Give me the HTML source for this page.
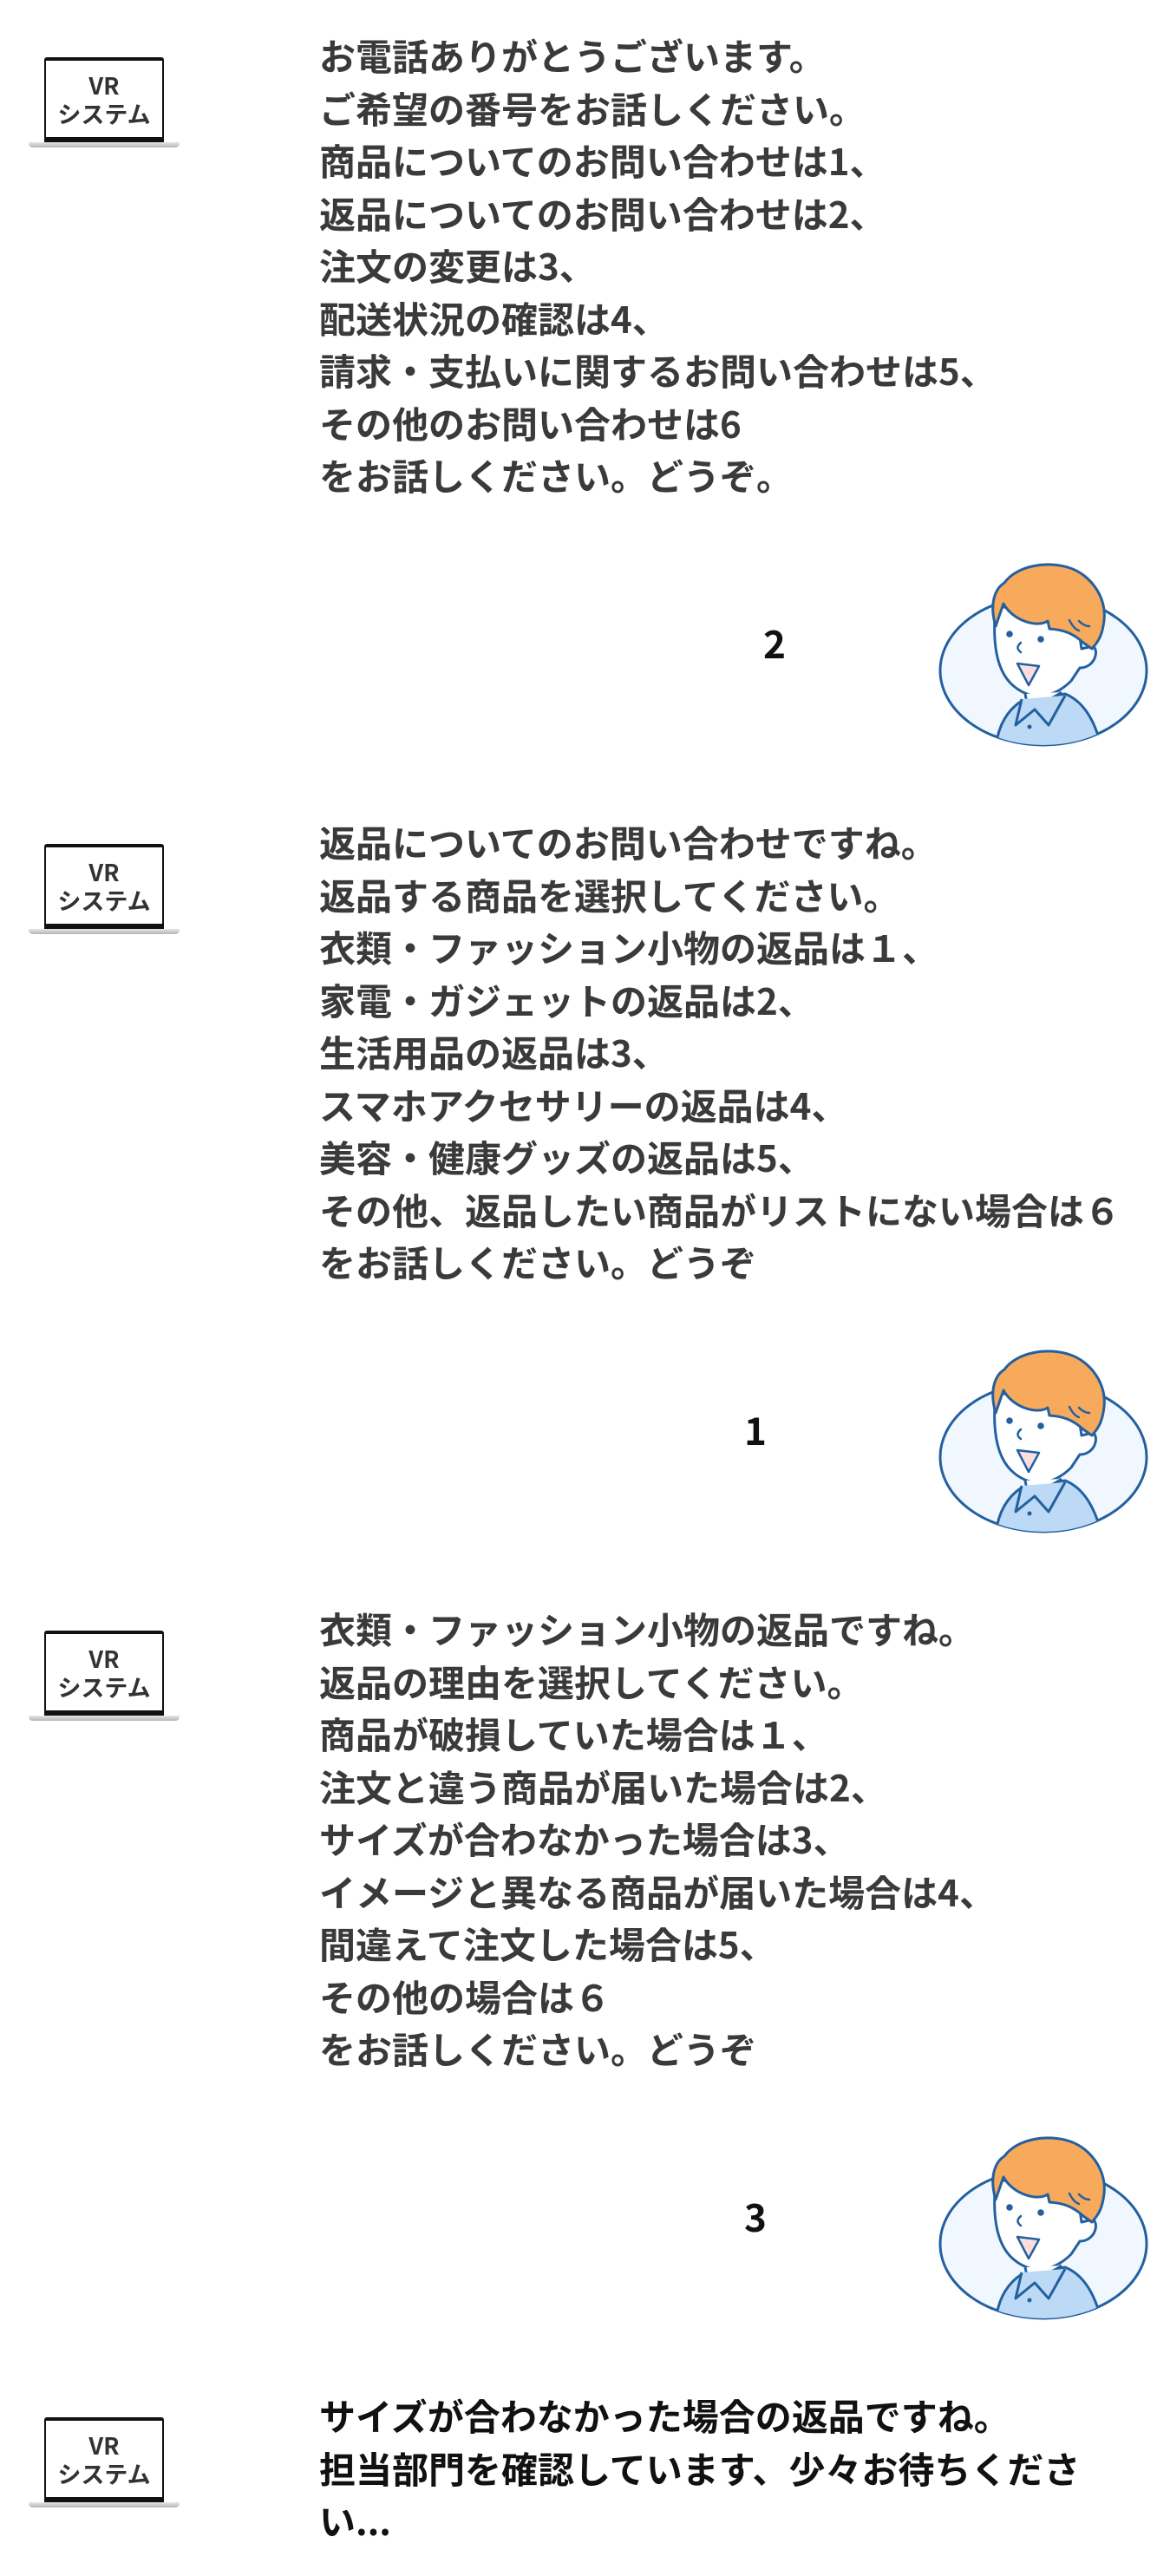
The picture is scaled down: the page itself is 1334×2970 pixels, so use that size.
<!DOCTYPE html>
<html><head><meta charset="utf-8"><style>
html,body{margin:0;padding:0;background:#fff;}
body{width:1334px;height:2970px;position:relative;overflow:hidden;font-family:"Liberation Sans","Noto Sans CJK JP",sans-serif;}
.t{position:absolute;left:368px;font-family:"Noto Sans CJK JP","Liberation Sans",sans-serif;font-weight:700;font-size:42px;line-height:60.5px;color:#3a3a3a;white-space:nowrap;}
.t.b{color:#111;}
.n{position:absolute;font-family:"Noto Sans CJK JP","Liberation Sans",sans-serif;font-weight:700;font-size:44px;line-height:60px;color:#111;transform:translate(-50%,-50%);}
.lap{position:absolute;left:33px;width:174px;height:110px;}
.lap .scr{position:absolute;left:18px;top:0;width:134px;border:2px solid #111;border-top-width:4px;border-bottom-width:6px;background:#fff;border-radius:3px 3px 0 0;text-align:center;font-family:"Noto Sans CJK JP","Liberation Sans",sans-serif;font-weight:700;color:#333;font-size:27px;line-height:33px;padding-top:11px;box-sizing:content-box;height:77px;}
.lap .base{position:absolute;left:0;top:98px;width:174px;height:6px;background:linear-gradient(#e6e6e6,#b5b5b5);border-radius:2px 2px 6px 6px;}
.av{position:absolute;left:1040px;width:294px;height:300px;}
</style></head><body>

<div class="lap" style="top:66px"><div class="scr">VR<br>システム</div><div class="base"></div></div>
<div class="lap" style="top:973px"><div class="scr">VR<br>システム</div><div class="base"></div></div>
<div class="lap" style="top:1880px"><div class="scr">VR<br>システム</div><div class="base"></div></div>
<div class="lap" style="top:2787px"><div class="scr">VR<br>システム</div><div class="base"></div></div>

<div class="t" style="top:34px">お電話ありがとうございます。<br>ご希望の番号をお話しください。<br>商品についてのお問い合わせは1、<br>返品についてのお問い合わせは2、<br>注文の変更は3、<br>配送状況の確認は4、<br>請求・支払いに関するお問い合わせは5、<br>その他のお問い合わせは6<br>をお話しください。どうぞ。</div>

<div class="t" style="top:941px">返品についてのお問い合わせですね。<br>返品する商品を選択してください。<br>衣類・ファッション小物の返品は１、<br>家電・ガジェットの返品は2、<br>生活用品の返品は3、<br>スマホアクセサリーの返品は4、<br>美容・健康グッズの返品は5、<br>その他、返品したい商品がリストにない場合は６<br>をお話しください。どうぞ</div>

<div class="t" style="top:1848px">衣類・ファッション小物の返品ですね。<br>返品の理由を選択してください。<br>商品が破損していた場合は１、<br>注文と違う商品が届いた場合は2、<br>サイズが合わなかった場合は3、<br>イメージと異なる商品が届いた場合は4、<br>間違えて注文した場合は5、<br>その他の場合は６<br>をお話しください。どうぞ</div>

<div class="t b" style="top:2755px">サイズが合わなかった場合の返品ですね。<br>担当部門を確認しています、少々お待ちくださ<br>い...</div>

<div class="n" style="left:893px;top:740px">2</div>
<div class="n" style="left:871px;top:1647px">1</div>
<div class="n" style="left:871px;top:2554px">3</div>

<svg width="0" height="0" style="position:absolute">
<defs>
<clipPath id="ec"><ellipse cx="163" cy="173" rx="119" ry="86"/></clipPath>
<g id="avatar">
<ellipse cx="163" cy="173" rx="119" ry="86" fill="#f1f7fe" stroke="#23609f" stroke-width="3"/>
<g clip-path="url(#ec)">
<path d="M108,262 Q112,225 138,208 L188,200 Q218,212 230,262 Z" fill="#bcd9f5" stroke="#23609f" stroke-width="3"/>
</g>
<path d="M108,100 C104,140 108,175 130,192 C150,208 175,205 195,185 L205,170 C222,170 228,150 220,145 L207,148 L200,100 Z" fill="#fff" stroke="#23609f" stroke-width="3" stroke-linejoin="round"/>
<path d="M142,200 L144,210 Q165,212 184,198" fill="#fff" stroke="#23609f" stroke-width="3"/>
<path d="M138,206 L131,236 L153,218 L169,236 L188,202" fill="#bcd9f5" stroke="#23609f" stroke-width="3" stroke-linejoin="round"/>
<circle cx="147" cy="238" r="2.5" fill="#23609f"/>
<path d="M108,122 C100,95 108,78 118,72 C132,52 168,46 194,55 C215,62 236,86 233,115 C231,133 226,140 219,148 L209,141 C197,130 186,126 170,125 L168,116 C156,124 128,116 117,96 Z" fill="#f7a95c" stroke="#23609f" stroke-width="3" stroke-linejoin="round"/>
<path d="M193,115 Q198,125 204,127 M204,116 Q210,122 216,122" fill="none" stroke="#23609f" stroke-width="2.5" stroke-linecap="round"/>
<circle cx="124" cy="131" r="3.8" fill="#23609f"/>
<circle cx="160" cy="137" r="3.8" fill="#23609f"/>
<path d="M137,141 Q130,147 137,152" fill="none" stroke="#23609f" stroke-width="2.5" stroke-linecap="round"/>
<path d="M133,165 L158,168 L146,190 Z" fill="#fddede" stroke="#23609f" stroke-width="2.5" stroke-linejoin="round"/>
</g>
</defs>
</svg>

<svg class="av" style="top:600px" viewBox="0 0 294 300"><use href="#avatar"/></svg>
<svg class="av" style="top:1507px" viewBox="0 0 294 300"><use href="#avatar"/></svg>
<svg class="av" style="top:2414px" viewBox="0 0 294 300"><use href="#avatar"/></svg>

</body></html>
